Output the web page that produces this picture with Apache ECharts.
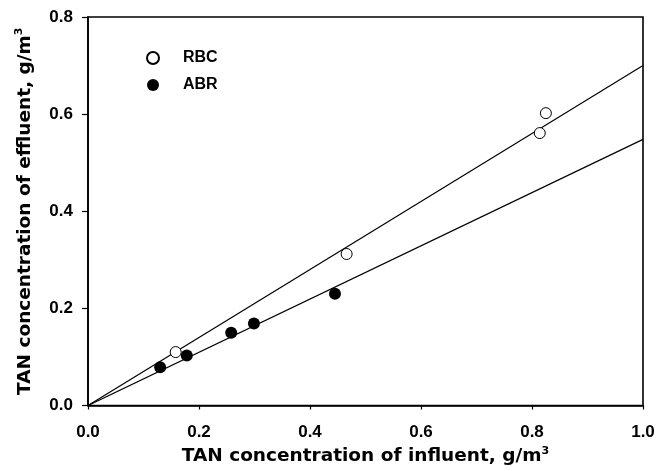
<!DOCTYPE html>
<html>
<head>
<meta charset="utf-8">
<script src="https://cdn.jsdelivr.net/npm/echarts@6/dist/echarts.min.js"></script>
<style>
html,body{margin:0;padding:0;background:#fff;}
#chart{width:659px;height:471px;}
</style>
</head>
<body>
<div id="chart"></div>
<script>
// Data
var rbcX = [0.158, 0.466, 0.814, 0.825];
var rbcY = [0.110, 0.312, 0.561, 0.602];
var abrX = [0.130, 0.178, 0.258, 0.299, 0.445];
var abrY = [0.079, 0.103, 0.150, 0.169, 0.230];
var rbcFitX = [0, 1.0];
var rbcFitY = [0, 0.700];
var abrFitX = [0, 1.0];
var abrFitY = [0, 0.548];
var xTickLabels = ['0.0', '0.2', '0.4', '0.6', '0.8', '1.0'];
var yTickLabels = ['0.0', '0.2', '0.4', '0.6', '0.8'];
var seriesNames = ['RBC', 'ABR'];

function zip(a, b) { return a.map(function (v, i) { return [v, b[i]]; }); }

var FONT = '"Liberation Sans", Arial, sans-serif';
var TFONT = '"DejaVu Sans", "Liberation Sans", sans-serif';
var titleRich = {
  a: { fontFamily: TFONT, fontWeight: 'bold', fontSize: 18.5, color: '#000' },
  s: { fontFamily: TFONT, fontWeight: 'bold', fontSize: 11, color: '#000', padding: [0, 0, 11, 0] }
};
var chart = echarts.init(document.getElementById('chart'));
chart.setOption({
  animation: false,
  backgroundColor: '#fff',
  grid: {
    left: 88, top: 17, right: 16, bottom: 65,
    show: true, borderColor: '#000', borderWidth: 1.6, backgroundColor: 'transparent'
  },
  legend: {
    data: seriesNames,
    orient: 'vertical',
    left: 141, top: 45,
    itemWidth: 12, itemHeight: 12, itemGap: 11,
    textStyle: { fontFamily: FONT, fontWeight: 'bold', fontSize: 16, lineHeight: 14, color: '#000', padding: [0, 0, 0, 19] }
  },
  xAxis: {
    type: 'value', min: 0, max: 1.0, interval: 0.2,
    name: '{a|TAN concentration of influent, g/m}{s|3}',
    nameLocation: 'middle', nameGap: 40,
    nameTextStyle: { rich: titleRich },
    axisLine: { show: true, lineStyle: { color: '#000', width: 1.6 } },
    axisTick: { show: true, inside: false, length: 4, lineStyle: { color: '#000', width: 1.2 } },
    axisLabel: {
      margin: 18, fontFamily: FONT, fontWeight: 'bold', fontSize: 17, color: '#000',
      formatter: function (v) { return xTickLabels[Math.round(v / 0.2)]; }
    },
    splitLine: { show: false }
  },
  yAxis: {
    type: 'value', min: 0, max: 0.8, interval: 0.2,
    name: '{a|TAN concentration of effluent, g/m}{s|3}',
    nameLocation: 'middle', nameGap: 52, nameRotate: 90,
    nameTextStyle: { rich: titleRich },
    axisLine: { show: true, lineStyle: { color: '#000', width: 1.6 } },
    axisTick: { show: true, inside: false, length: 6, lineStyle: { color: '#000', width: 1.2 } },
    axisLabel: {
      margin: 15, fontFamily: FONT, fontWeight: 'bold', fontSize: 17, color: '#000',
      formatter: function (v) { return yTickLabels[Math.round(v / 0.2)]; }
    },
    splitLine: { show: false }
  },
  series: [
    {
      name: 'RBC fit', type: 'line', data: zip(rbcFitX, rbcFitY),
      showSymbol: false, symbol: 'none', z: 1,
      lineStyle: { color: '#000', width: 1.2 }
    },
    {
      name: 'ABR fit', type: 'line', data: zip(abrFitX, abrFitY),
      showSymbol: false, symbol: 'none', z: 1,
      lineStyle: { color: '#000', width: 1.2 }
    },
    {
      name: 'RBC', type: 'scatter', data: zip(rbcX, rbcY), z: 3,
      symbol: 'circle', symbolSize: 11,
      itemStyle: { color: '#fff', borderColor: '#000', borderWidth: 1, opacity: 1 }
    },
    {
      name: 'ABR', type: 'scatter', data: zip(abrX, abrY), z: 3,
      symbol: 'circle', symbolSize: 12,
      itemStyle: { color: '#000', borderColor: '#000', borderWidth: 0, opacity: 1 }
    }
  ]
});
</script>
</body>
</html>
